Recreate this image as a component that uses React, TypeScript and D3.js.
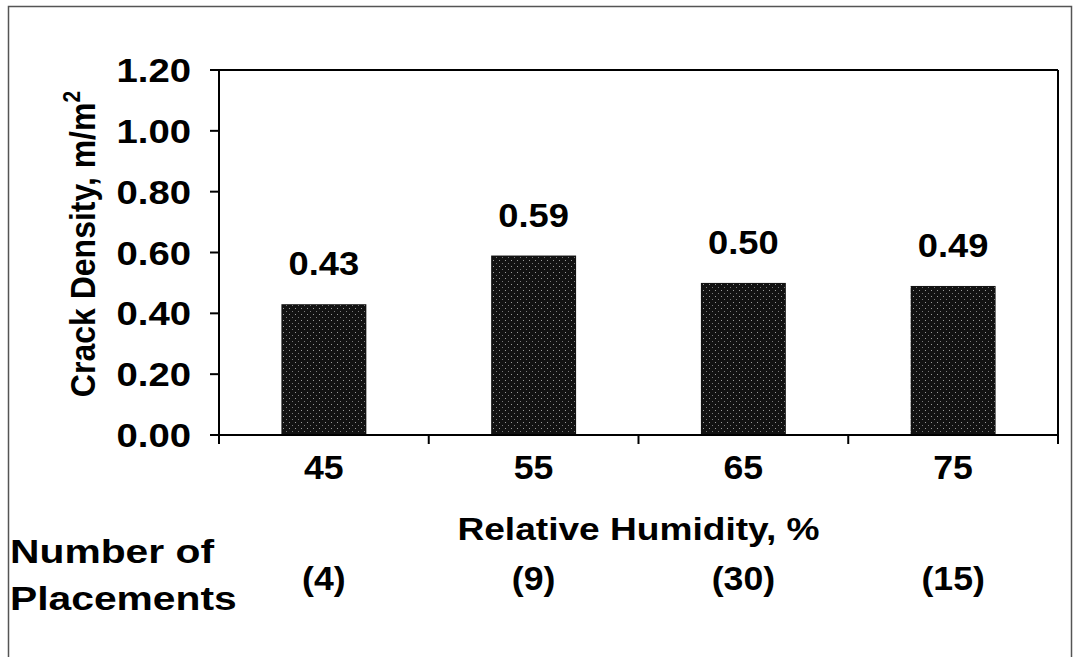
import React from "react";
import * as d3 from "d3";

const categories = ["45", "55", "65", "75"];
const crackDensity = [0.43, 0.59, 0.50, 0.49];
const placements = ["(4)", "(9)", "(30)", "(15)"];
const yTicks = [0, 0.2, 0.4, 0.6, 0.8, 1.0, 1.2];

const W = 1079;
const H = 657;
const left = 219;
const right = 1058;
const top = 70;
const bottom = 435;
const FONT = "'Liberation Sans', Arial, sans-serif";

type TProps = {
  x: number;
  y: number;
  size: number;
  sx?: number;
  anchor?: "start" | "middle" | "end";
  children: React.ReactNode;
};

function T({ x, y, size, sx = 1.12, anchor = "middle", children }: TProps) {
  return (
    <text
      transform={`translate(${x},${y}) scale(${sx},1)`}
      textAnchor={anchor}
      fontSize={size}
      fill="#000"
    >
      {children}
    </text>
  );
}

export default function App() {
  const x = d3.scaleBand<string>().domain(categories).range([left, right]).padding(0);
  const y = d3.scaleLinear().domain([0, 1.2]).range([bottom, top]);
  const bw = x.bandwidth() * 0.405;
  const boundaries = [...categories.map((c) => x(c) as number), right];

  return (
    <svg
      width={W}
      height={H}
      style={{ position: "absolute", left: 0, top: 0, background: "#fff" }}
      fontFamily={FONT}
      fontWeight="bold"
    >
      <defs>
        <pattern id="stip" width="6" height="6" patternUnits="userSpaceOnUse">
          <rect width="6" height="6" fill="#121212" />
          <rect x="1" y="2" width="1" height="1" fill="#9a9a9a" />
          <rect x="4" y="5" width="1" height="1" fill="#7a7a7a" />
        </pattern>
      </defs>
      <rect x={0} y={0} width={W} height={H} fill="#fff" />
      {/* outer frame */}
      <rect x={8.5} y={6.5} width={1063} height={660} fill="none" stroke="#555" strokeWidth={1.5} />

      {/* bars */}
      {categories.map((c, i) => {
        const cx = (x(c) as number) + x.bandwidth() / 2;
        return (
          <g key={c}>
            <rect
              x={cx - bw / 2}
              y={y(crackDensity[i])}
              width={bw}
              height={bottom - y(crackDensity[i])}
              fill="url(#stip)"
            />
            <T x={cx} y={y(crackDensity[i]) - 29} size={33} sx={1.1}>
              {crackDensity[i].toFixed(2)}
            </T>
            <T x={cx} y={479} size={33} sx={1.08}>
              {c}
            </T>
            <T x={cx} y={590} size={33} sx={1.08}>
              {placements[i]}
            </T>
          </g>
        );
      })}

      {/* plot frame top/right */}
      <line x1={left} x2={right} y1={top} y2={top} stroke="#000" strokeWidth={2} />
      <line x1={right} x2={right} y1={top} y2={bottom} stroke="#000" strokeWidth={2} />
      {/* axes */}
      <line x1={left} x2={left} y1={top} y2={bottom} stroke="#000" strokeWidth={2} />
      <line x1={left} x2={right} y1={bottom} y2={bottom} stroke="#000" strokeWidth={2} />

      {yTicks.map((t) => (
        <g key={t}>
          <line x1={left - 9} x2={left} y1={y(t)} y2={y(t)} stroke="#000" strokeWidth={2} />
          <T x={191} y={y(t) + 12} size={33} sx={1.16} anchor="end">
            {t.toFixed(2)}
          </T>
        </g>
      ))}
      {boundaries.map((b, i) => (
        <line key={i} x1={b} x2={b} y1={bottom} y2={bottom + 9} stroke="#000" strokeWidth={2} />
      ))}

      {/* axis titles */}
      <text
        transform={`translate(95, 244) rotate(-90) scale(1,1.12)`}
        textAnchor="middle"
        fontSize={32}
        fill="#000"
      >
        Crack Density, m/m
        <tspan dy={-13} fontSize={21}>2</tspan>
      </text>
      <T x={(left + right) / 2} y={540} size={32} sx={1.16}>
        Relative Humidity, %
      </T>
      <T x={10} y={563} size={34} sx={1.2} anchor="start">
        Number of
      </T>
      <T x={10} y={610} size={34} sx={1.2} anchor="start">
        Placements
      </T>
    </svg>
  );
}
